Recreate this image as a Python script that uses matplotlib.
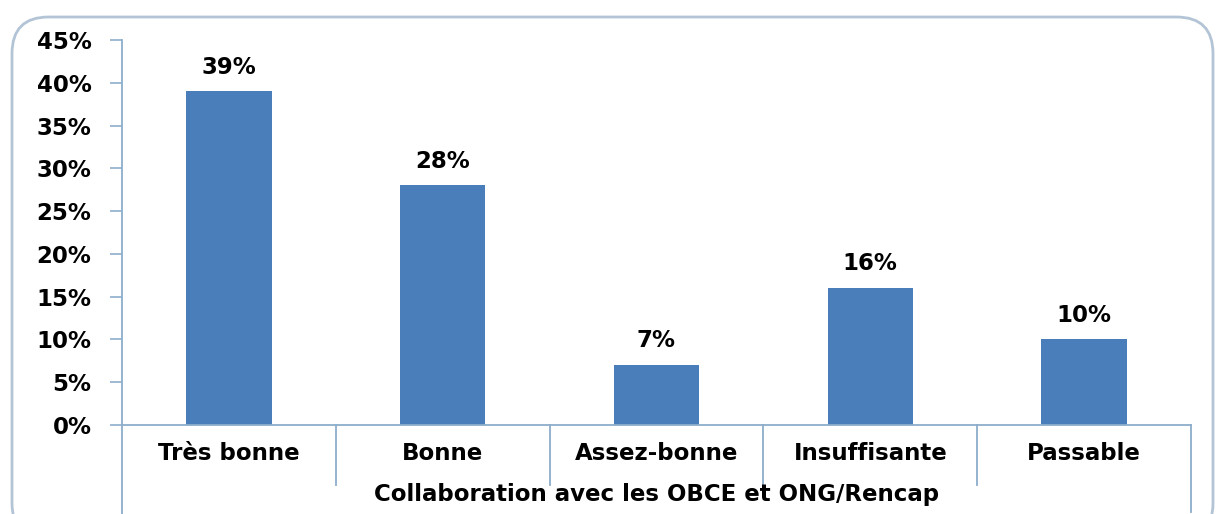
import matplotlib
matplotlib.use("Agg")
import matplotlib.pyplot as plt
from matplotlib.patches import FancyBboxPatch
from matplotlib.lines import Line2D
import numpy as np

categories = ["Très bonne", "Bonne", "Assez-bonne", "Insuffisante", "Passable"]
values = [39, 28, 7, 16, 10]
yticks = [0, 5, 10, 15, 20, 25, 30, 35, 40, 45]
axis_title = "Collaboration avec les OBCE et ONG/Rencap"

W, H = 1219, 514
fig = plt.figure(figsize=(W / 100, H / 100), dpi=100)
fig.patch.set_facecolor("white")

font = "DejaVu Sans"
fs = 16.5
bar_color = "#4A7EBB"
line_color = "#8DAECB"

# axes placement (pixels)
x0, x1 = 122, 1191
y_top, y_bot = 40, 425
ax = fig.add_axes([x0 / W, 1 - y_bot / H, (x1 - x0) / W, (y_bot - y_top) / H])

x = np.arange(len(categories))
ax.bar(x, values, width=0.4, color=bar_color, zorder=2)
ax.set_xlim(-0.5, len(categories) - 0.5)
ax.set_ylim(0, 45)
ax.set_yticks(yticks)
ax.set_yticklabels([f"{v}%" for v in yticks], fontsize=fs, fontweight="bold", family=font)
ax.tick_params(axis="y", length=9, width=1.2, color=line_color, pad=13)
ax.tick_params(axis="x", length=0)
ax.set_xticks([])

for s in ["top", "right"]:
    ax.spines[s].set_visible(False)
for s in ["left", "bottom"]:
    ax.spines[s].set_color(line_color)
    ax.spines[s].set_linewidth(1.3)

for xi, v in zip(x, values):
    ax.text(xi, v + 1.5, f"{v}%", ha="center", va="bottom", fontsize=fs,
            fontweight="bold", family=font)

# category labels
trans = ax.get_xaxis_transform()
px = 1.0 / (y_bot - y_top)  # axes-fraction per pixel (vertical)
for xi, c in zip(x, categories):
    ax.text(xi, -(454 - y_bot) * px, c, transform=trans, ha="center", va="center",
            fontsize=fs, fontweight="bold", family=font)

ax.text(2, -(494 - y_bot) * px, axis_title, transform=trans, ha="center", va="center",
        fontsize=fs, fontweight="bold", family=font)

# separators below axis
for b in np.arange(0.5, len(categories) - 1, 1.0):
    ax.add_line(Line2D([b, b], [0, -(485 - y_bot) * px], transform=trans, color=line_color,
                       lw=1.3, clip_on=False))
# right edge line and left extension
ax.add_line(Line2D([len(categories) - 0.5] * 2, [0, -(512 - y_bot) * px], transform=trans,
                   color=line_color, lw=1.3, clip_on=False))
ax.add_line(Line2D([-0.5, -0.5], [0, -(514 - y_bot) * px], transform=trans,
                   color=line_color, lw=1.3, clip_on=False))

# rounded figure border
border = FancyBboxPatch((12 / W, -0.05), (1213 - 12) / W, 1 - 17 / H + 0.05,
                        boxstyle="round,pad=0,rounding_size=0.03",
                        transform=fig.transFigure, facecolor="none",
                        edgecolor="#B2C4D6", lw=2, mutation_aspect=W / H)
fig.patches.append(border)

fig.savefig("out.png", dpi=100)
